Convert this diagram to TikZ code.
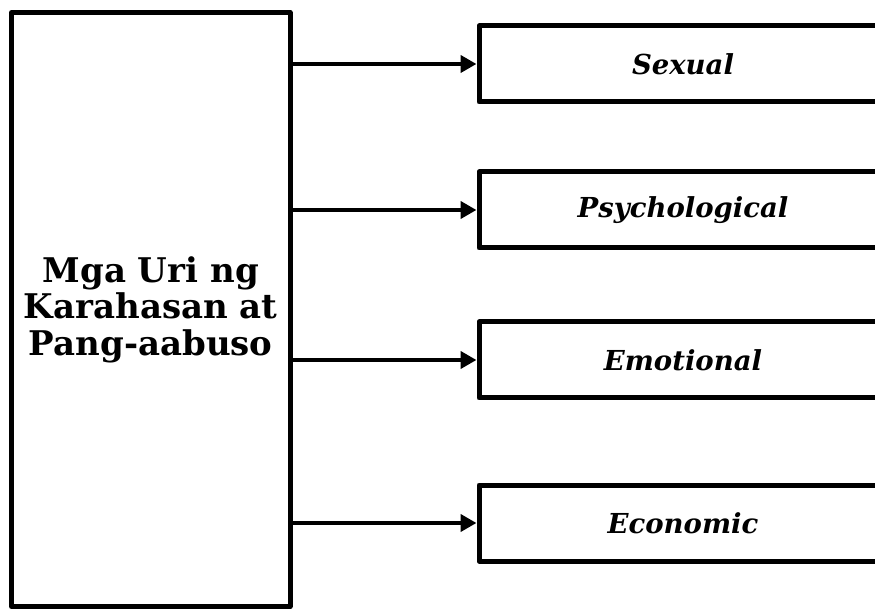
\documentclass[tikz,border=0pt]{standalone}
\usepackage{fontspec}
\setmainfont{DejaVu Serif}
\usetikzlibrary{arrows.meta}
\begin{document}
\begin{tikzpicture}[x=1pt,y=1pt,
  box/.style={draw=black,line width=5pt,line join=round,fill=white},
  mainbox/.style={box,minimum width=278.5pt,minimum height=594pt,inner sep=0pt,align=center,
     font=\fontsize{34}{36.5}\selectfont\bfseries},
  typebox/.style={box,minimum width=408pt,minimum height=76pt,inner sep=0pt,
     font=\fontsize{27.5}{30}\selectfont\bfseries\itshape},
  link/.style={line width=4pt,-{Triangle[length=16pt,width=17pt]}}]
\useasboundingbox (0,0) rectangle (875,608);
\node[mainbox] (m) at (150.75,298.5) {Mga Uri ng\\Karahasan at\\Pang-aabuso};
\node[typebox] (b1) at (683,544) {Sexual};
\node[typebox] (b2) at (683,398) {Psychological};
\node[typebox] (b3) at (683,248) {Emotional};
\node[typebox] (b4) at (683,85) {Economic};
\foreach \b in {b1,b2,b3,b4}
  \draw[link] (m.east |- \b.west) -- (\b.west);
\end{tikzpicture}
\end{document}
